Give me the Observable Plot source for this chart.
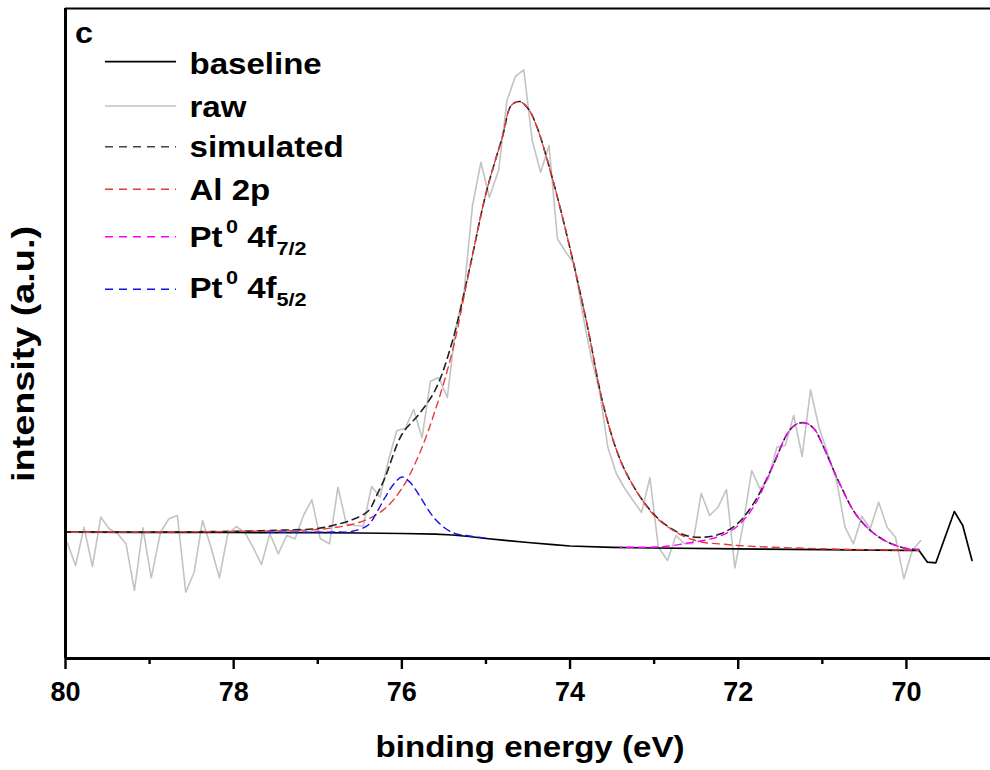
<!DOCTYPE html>
<html>
<head>
<meta charset="utf-8">
<script src="https://cdn.jsdelivr.net/npm/d3@7"></script>
<script src="https://cdn.jsdelivr.net/npm/@observablehq/plot@0.6"></script>
<style>
  html, body { margin: 0; padding: 0; background: #fff; }
  #chart { width: 990px; height: 770px; }
</style>
</head>
<body>
<div id="chart"></div>
<script>
// ---------- data (binding energy in eV, intensity in arbitrary units) ----------
const rawEnergy = [79.98,79.88,79.78,79.68,79.58,79.48,79.38,79.28,79.18,79.08,
  78.98,78.87,78.77,78.67,78.57,78.47,78.37,78.27,78.17,78.07,
  77.97,77.87,77.77,77.67,77.57,77.47,77.37,77.27,77.17,77.07,
  76.97,76.86,76.76,76.66,76.56,76.46,76.36,76.26,76.16,76.06,
  75.96,75.86,75.76,75.66,75.56,75.46,75.36,75.26,75.16,75.06,
  74.96,74.85,74.75,74.65,74.55,74.45,74.35,74.25,74.15,74.05,
  73.95,73.85,73.75,73.65,73.55,73.45,73.35,73.25,73.15,73.05,
  72.95,72.84,72.74,72.64,72.54,72.44,72.34,72.24,72.14,72.04,
  71.94,71.84,71.74,71.64,71.54,71.44,71.34,71.24,71.14,71.04,
  70.94,70.83,70.73,70.63,70.53,70.43,70.33,70.23,70.13,70.03,
  69.93,69.83];
const rawIntensity = [116.3,93,131.3,92,141.3,129.7,124.7,114.7,68,130.7,
  80.7,126.3,139.7,143,66.3,86.3,138,111.3,80.7,124.7,
  132,126.3,111.3,94,124.7,104.7,123,119.7,143,158.7,
  119.7,114.7,171.3,134.7,133,132.5,172,161.3,198,228,
  230,249,220.7,277.3,281,261,330,367,453,496.3,
  461.3,488,558,582,588.7,518,486.3,513,419.7,406.3,
  394.7,344.7,301.3,268,211,185,170,158,146,180.7,
  111.3,98,123,114.7,114.7,165.3,143,151.3,169,90.7,
  134.7,188,169.7,179.7,211.3,213,243,202,268.7,231.3,
  206.3,178,131.3,114.7,142,129.7,156.3,131.3,121.3,79.7,
  108,118];

const baselineEnergy = [80.0,79.0,78.0,77.0,76.5,76.0,75.6,75.4,75.2,75.0,74.8,74.5,74.2,74.0,73.5,73.0,72.0,71.0,70.0,69.85,69.75,69.65,69.43,69.33,69.22];
const baselineIntensity = [126.3,126.2,126.0,125.8,125.5,125.0,124.3,123.5,122.0,120.0,118.3,116.0,113.8,112.5,111.2,110.5,109.7,108.9,108.2,108.0,96.3,95.7,147,133,98];

const simEnergy = [80.0,79.0,78.0,77.5,77.0,76.8,76.6,76.4,76.3,76.2,76.0,75.8,75.6,75.4,75.2,75.0,74.8,74.7,74.6,74.5,74.4,74.2,74.0,73.8,73.6,73.4,73.2,73.0,72.8,72.6,72.4,72.2,72.0,71.8,71.6,71.4,71.3,71.2,71.1,71.0,70.8,70.6,70.4,70.2,70.0,69.85];
const simIntensity = [126.3,126.5,127.2,128.2,130,133.5,138.5,147.5,163,181,224,244,269,317,388,465,523,553,557,550,533,477,410,335,252,198,166,144,130,122.5,121.3,125,135.5,157.4,190.5,227,234.7,235.5,230,214.3,176,144,126,115.5,110,109];

const alEnergy = [80.0,78.0,77.0,76.8,76.6,76.4,76.2,76.0,75.8,75.6,75.4,75.2,75.0,74.8,74.7,74.6,74.5,74.4,74.2,74.0,73.8,73.6,73.4,73.2,73.0,72.8,72.6,72.4,72.2,72.0,71.6,71.0,70.4,70.0,69.85];
const alIntensity = [126.3,127,129,131,134,139.5,150,170,203,249,307,387,465,523,553,557,550,533,477,410,335,252,198,166,143,129.5,120.6,116,114.5,113,111.3,109.7,108.7,108.4,108.2];

const pt72Energy = [73.4,73.0,72.8,72.6,72.4,72.2,72.0,71.8,71.6,71.4,71.3,71.2,71.1,71.0,70.8,70.6,70.4,70.2,70.0,69.85];
const pt72Intensity = [111.2,111.5,112.7,115.5,118.2,123,133,154,190.5,227,234.7,235.5,230,214.3,176,144,126,115.5,110,109];

const pt52Energy = [77.6,77.0,76.8,76.6,76.4,76.3,76.2,76.1,76.0,75.9,75.8,75.6,75.4,75.2,75.0];
const pt52Intensity = [126.3,126.2,126.5,127,133.5,146,161,174,181.5,176,164,139,126,122.5,120.5];

const xTicks = [80, 78, 76, 74, 72, 70];
const xMinorTicks = [79, 77, 75, 73, 71];

const panelLabel = "c";
const xLabel = "binding energy (eV)";
const yLabel = "intensity (a.u.)";
const legendItems = [
  {main: "baseline"},
  {main: "raw"},
  {main: "simulated"},
  {main: "Al 2p"},
  {main: "Pt", sup: "0", rest: " 4f", sub: "7/2"},
  {main: "Pt", sup: "0", rest: " 4f", sub: "5/2"}
];

// ---------- build ----------
const rows = (xs, ys) => xs.map((x, i) => ({x, y: ys[i]}));
const FONT = "'Liberation Sans', Arial, Helvetica, sans-serif";
const DASH = "7,5";
const C = {raw: "#c3c3c3", base: "#000000", sim: "#222222", al: "#e83a3a", pt72: "#ff00ff", pt52: "#1010f0"};

const plot = Plot.plot({
  width: 990,
  height: 770,
  marginLeft: 65,
  marginRight: 0,
  marginTop: 8,
  marginBottom: 112,
  style: {fontFamily: FONT, background: "#fff", color: "#000", overflow: "visible"},
  x: {domain: [80, 69], axis: null},
  y: {domain: [0, 650], axis: null},
  marks: [
    Plot.line(rows(rawEnergy, rawIntensity), {x: "x", y: "y", stroke: C.raw, strokeWidth: 1.6}),
    Plot.line(rows(baselineEnergy, baselineIntensity), {x: "x", y: "y", stroke: C.base, strokeWidth: 1.7}),
    Plot.line(rows(simEnergy, simIntensity), {x: "x", y: "y", stroke: C.sim, strokeWidth: 1.6, strokeDasharray: DASH, curve: "catmull-rom"}),
    Plot.line(rows(alEnergy, alIntensity), {x: "x", y: "y", stroke: C.al, strokeWidth: 1.4, strokeDasharray: DASH, strokeDashoffset: 6, curve: "catmull-rom"}),
    Plot.line(rows(pt72Energy, pt72Intensity), {x: "x", y: "y", stroke: C.pt72, strokeWidth: 1.4, strokeDasharray: DASH, strokeDashoffset: 6, curve: "catmull-rom"}),
    Plot.line(rows(pt52Energy, pt52Intensity), {x: "x", y: "y", stroke: C.pt52, strokeWidth: 1.4, strokeDasharray: DASH, curve: "catmull-rom"}),
    Plot.ruleY([650], {stroke: "#000", strokeWidth: 2.2}),
    Plot.ruleY([0], {stroke: "#000", strokeWidth: 3}),
    Plot.ruleX([80], {stroke: "#000", strokeWidth: 3}),
    Plot.axisX(xTicks, {tickSize: 11, strokeWidth: 2.4, tickPadding: 12, fontSize: 27, fontWeight: "bold", fill: "#000", label: null}),
    Plot.axisX(xMinorTicks, {tickSize: 6, strokeWidth: 2.4, text: null, label: null})
  ]
});

document.getElementById("chart").appendChild(plot);
const svg = d3.select(plot);

// panel label
svg.append("g").attr("transform", "translate(75,43) scale(1.12,1)")
  .append("text").attr("text-anchor", "start").attr("font-family", FONT).attr("font-weight", "bold").attr("font-size", 29)
  .attr("fill", "#000").text(panelLabel);

// axis titles
svg.append("text")
  .attr("x", 530).attr("y", 757)
  .attr("text-anchor", "middle")
  .attr("font-family", FONT).attr("font-weight", "bold").attr("font-size", 29)
  .attr("textLength", 309).attr("lengthAdjust", "spacingAndGlyphs")
  .attr("fill", "#000").text(xLabel);

svg.append("text")
  .attr("transform", "translate(34,354) rotate(-90)")
  .attr("text-anchor", "middle")
  .attr("font-family", FONT).attr("font-weight", "bold").attr("font-size", 31)
  .attr("textLength", 256).attr("lengthAdjust", "spacingAndGlyphs")
  .attr("fill", "#000").text(yLabel);

// legend
const legendStyles = [
  {stroke: C.base, dash: null, w: 1.7},
  {stroke: C.raw, dash: null, w: 1.6},
  {stroke: "#444", dash: "8,6", w: 1.6},
  {stroke: C.al, dash: "8,6", w: 1.6},
  {stroke: C.pt72, dash: "8,6", w: 1.6},
  {stroke: C.pt52, dash: "8,6", w: 1.6}
];
const lineYs = [61.7, 106, 146.7, 189.3, 236.7, 289.3];
const textYs = [74, 116.7, 156.7, 200, 246.7, 298.3];
const lg = svg.append("g").attr("font-family", FONT).attr("font-weight", "bold").attr("fill", "#000").attr("text-anchor", "start");
legendItems.forEach((item, i) => {
  const st = legendStyles[i];
  const ln = lg.append("line").attr("x1", 105).attr("x2", 176)
    .attr("y1", lineYs[i]).attr("y2", lineYs[i])
    .attr("stroke", st.stroke).attr("stroke-width", st.w);
  if (st.dash) ln.attr("stroke-dasharray", st.dash);
  const t = lg.append("g").attr("transform", `translate(189.5,${textYs[i]}) scale(1.14,1)`)
    .append("text").attr("text-anchor", "start").attr("font-size", 29);
  t.append("tspan").text(item.main);
  if (item.sup) {
    t.append("tspan").attr("font-size", 19).attr("dx", 3).attr("dy", -14).text(item.sup);
    t.append("tspan").attr("font-size", 29).attr("dy", 14).text(item.rest);
    t.append("tspan").attr("font-size", 19).attr("dy", 8).text(item.sub);
  }
});
</script>
</body>
</html>
